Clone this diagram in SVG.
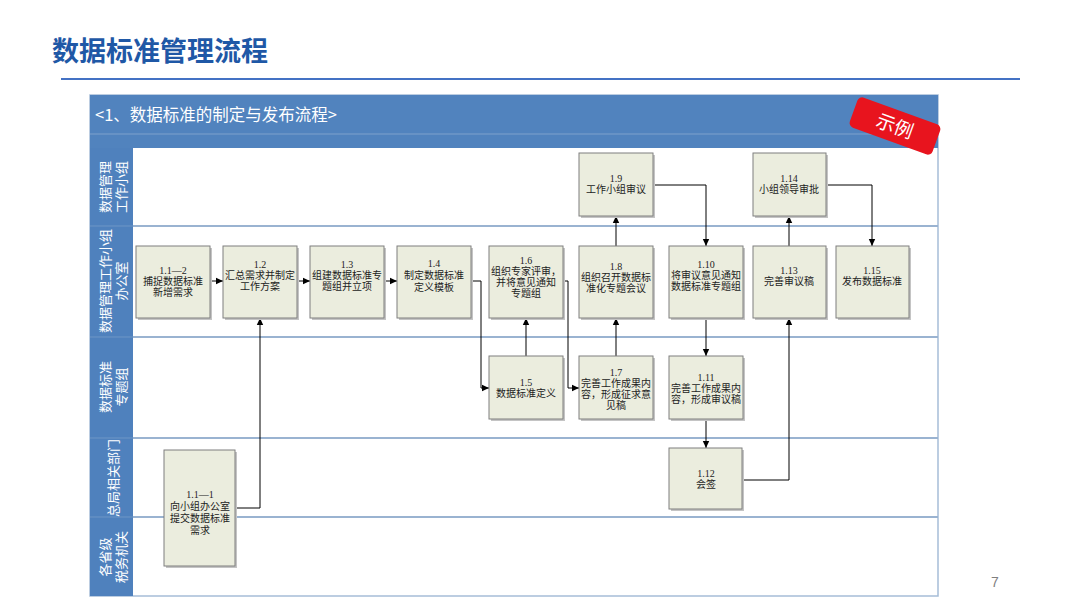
<svg xmlns="http://www.w3.org/2000/svg" width="1080" height="608" viewBox="0 0 1080 608">
<defs>
<marker id="arr" markerWidth="8" markerHeight="8" refX="7" refY="4" orient="auto" markerUnits="userSpaceOnUse">
<path d="M0,0.8 L7,4 L0,7.2 Z" fill="#000"/>
</marker>
<style>
.title{font-family:"Noto Sans CJK SC","Noto Sans",sans-serif;font-weight:700;font-size:27px;fill:#1F58A6}
.hdr{font-family:"Noto Sans CJK SC","Noto Sans",sans-serif;font-size:16.5px;fill:#fff}
.lane{font-family:"Noto Sans CJK SC","Noto Sans",sans-serif;font-size:13px;fill:#fff;text-anchor:middle;dominant-baseline:central}
.box{fill:#EBEDDE;stroke:#7F7F7F;stroke-width:1}
.shd{fill:#C4C4C4}
.t{font-family:"Liberation Serif","Noto Sans CJK SC",serif;font-size:10px;fill:#222;text-anchor:middle}
.con{fill:none;stroke:#000;stroke-width:1;marker-end:url(#arr)}
.sep{stroke:#9AB3D1;stroke-width:2}
.lsep{stroke:#6E96C6;stroke-width:1}
</style>
</defs>
<rect width="1080" height="608" fill="#fff"/>
<text class="title" x="52" y="61">数据标准管理流程</text>
<line x1="61" y1="79" x2="1020" y2="79" stroke="#4472C4" stroke-width="2"/>

<g id="frame">
<rect x="90" y="95" width="848" height="501" fill="#fff" stroke="#A6BDD7" stroke-width="1.5"/>
<rect x="90" y="95" width="848" height="53" fill="#5183BE"/>
<line x1="90" y1="134" x2="938" y2="134" stroke="#7FA1CC" stroke-width="1"/>
<rect x="90" y="148" width="43" height="448" fill="#4F81BD"/>
<text class="hdr" x="95" y="121">&lt;1、数据标准的制定与发布流程&gt;</text>
<line class="sep" x1="133" y1="226" x2="938" y2="226"/>
<line class="sep" x1="133" y1="337" x2="938" y2="337"/>
<line class="sep" x1="133" y1="438" x2="938" y2="438"/>
<line class="sep" x1="133" y1="517" x2="938" y2="517"/>
<line class="lsep" x1="90" y1="226" x2="133" y2="226"/>
<line class="lsep" x1="90" y1="337" x2="133" y2="337"/>
<line class="lsep" x1="90" y1="438" x2="133" y2="438"/>
<line class="lsep" x1="90" y1="517" x2="133" y2="517"/>
</g>

<g id="lane1"><text class="lane" transform="translate(104,187) rotate(-90)">数据管理</text><text class="lane" transform="translate(120,187) rotate(-90)">工作小组</text></g>
<g id="lane2"><text class="lane" transform="translate(104,281) rotate(-90)">数据管理工作小组</text><text class="lane" transform="translate(120,281) rotate(-90)">办公室</text></g>
<g id="lane3"><text class="lane" transform="translate(104,387) rotate(-90)">数据标准</text><text class="lane" transform="translate(120,387) rotate(-90)">专题组</text></g>
<g id="lane4"><text class="lane" transform="translate(112,478) rotate(-90)">总局相关部门</text></g>
<g id="lane5"><text class="lane" transform="translate(104,557) rotate(-90)">各省级</text><text class="lane" transform="translate(120,557) rotate(-90)">税务机关</text></g>

<g id="stamp" transform="translate(895,126) rotate(20)">
<rect x="-44" y="-16" width="88" height="32" rx="5" fill="#E8141E"/>
<text x="0" y="7" text-anchor="middle" font-family="Noto Sans CJK SC,sans-serif" font-size="19" fill="#fff">示例</text>
</g>

<g id="connectors">
<path class="con" d="M210,281 H223"/>
<path class="con" d="M297,281 H310"/>
<path class="con" d="M384,281 H397"/>
<path class="con" d="M471,281 H481 V388 H489"/>
<path class="con" d="M526,356 V318"/>
<path class="con" d="M563,281 H568 V388 H579"/>
<path class="con" d="M616,356 V318"/>
<path class="con" d="M616,246 V216"/>
<path class="con" d="M653,185 H706 V246"/>
<path class="con" d="M706,318 V356"/>
<path class="con" d="M706,419 V448"/>
<path class="con" d="M742,480 H789 V318"/>
<path class="con" d="M789,246 V216"/>
<path class="con" d="M826,185 H872 V246"/>
<path class="con" d="M235,508 H260 V318"/>
</g>

<g id="n1_1_2"><rect class="shd" x="138" y="248" width="74" height="72"/><rect class="box" x="136" y="246" width="74" height="72"/>
<text class="t" x="173" y="274">1.1—2</text><text class="t" x="173" y="285">捕捉数据标准</text><text class="t" x="173" y="296">新增需求</text></g>
<g id="n1_2"><rect class="shd" x="225" y="248" width="74" height="72"/><rect class="box" x="223" y="246" width="74" height="72"/>
<text class="t" x="260" y="268">1.2</text><text class="t" x="260" y="279">汇总需求并制定</text><text class="t" x="260" y="290">工作方案</text></g>
<g id="n1_3"><rect class="shd" x="312" y="248" width="74" height="72"/><rect class="box" x="310" y="246" width="74" height="72"/>
<text class="t" x="347" y="268">1.3</text><text class="t" x="347" y="279">组建数据标准专</text><text class="t" x="347" y="290">题组并立项</text></g>
<g id="n1_4"><rect class="shd" x="399" y="248" width="74" height="72"/><rect class="box" x="397" y="246" width="74" height="72"/>
<text class="t" x="434" y="267">1.4</text><text class="t" x="434" y="279" font-size="11">制定数据标准</text><text class="t" x="434" y="291" font-size="11">定义模板</text></g>
<g id="n1_6"><rect class="shd" x="491" y="248" width="74" height="72"/><rect class="box" x="489" y="246" width="74" height="72"/>
<text class="t" x="526" y="264">1.6</text><text class="t" x="526" y="275">组织专家评审，</text><text class="t" x="526" y="286">并将意见通知</text><text class="t" x="526" y="297">专题组</text></g>
<g id="n1_8"><rect class="shd" x="581" y="248" width="74" height="72"/><rect class="box" x="579" y="246" width="74" height="72"/>
<text class="t" x="616" y="270">1.8</text><text class="t" x="616" y="281">组织召开数据标</text><text class="t" x="616" y="292">准化专题会议</text></g>
<g id="n1_10"><rect class="shd" x="671" y="248" width="74" height="72"/><rect class="box" x="669" y="246" width="74" height="72"/>
<text class="t" x="706" y="268">1.10</text><text class="t" x="706" y="279">将审议意见通知</text><text class="t" x="706" y="290">数据标准专题组</text></g>
<g id="n1_13"><rect class="shd" x="755" y="248" width="73" height="72"/><rect class="box" x="753" y="246" width="73" height="72"/>
<text class="t" x="789" y="274">1.13</text><text class="t" x="789" y="285">完善审议稿</text></g>
<g id="n1_15"><rect class="shd" x="838" y="248" width="73" height="72"/><rect class="box" x="836" y="246" width="73" height="72"/>
<text class="t" x="872" y="274">1.15</text><text class="t" x="872" y="285">发布数据标准</text></g>
<g id="n1_9"><rect class="shd" x="581" y="155" width="74" height="63"/><rect class="box" x="579" y="153" width="74" height="63"/>
<text class="t" x="616" y="182">1.9</text><text class="t" x="616" y="193">工作小组审议</text></g>
<g id="n1_14"><rect class="shd" x="755" y="155" width="73" height="63"/><rect class="box" x="753" y="153" width="73" height="63"/>
<text class="t" x="789" y="182">1.14</text><text class="t" x="789" y="193">小组领导审批</text></g>
<g id="n1_5"><rect class="shd" x="491" y="358" width="74" height="63"/><rect class="box" x="489" y="356" width="74" height="63"/>
<text class="t" x="526" y="386">1.5</text><text class="t" x="526" y="397">数据标准定义</text></g>
<g id="n1_7"><rect class="shd" x="581" y="358" width="74" height="63"/><rect class="box" x="579" y="356" width="74" height="63"/>
<text class="t" x="616" y="376">1.7</text><text class="t" x="616" y="387">完善工作成果内</text><text class="t" x="616" y="398">容，形成征求意</text><text class="t" x="616" y="409">见稿</text></g>
<g id="n1_11"><rect class="shd" x="671" y="358" width="74" height="63"/><rect class="box" x="669" y="356" width="74" height="63"/>
<text class="t" x="706" y="381">1.11</text><text class="t" x="706" y="392">完善工作成果内</text><text class="t" x="706" y="403">容，形成审议稿</text></g>
<g id="n1_12"><rect class="shd" x="671" y="450" width="73" height="61"/><rect class="box" x="669" y="448" width="73" height="61"/>
<text class="t" x="706" y="477">1.12</text><text class="t" x="706" y="488">会签</text></g>
<g id="n1_1_1"><rect class="shd" x="166" y="452" width="71" height="116"/><rect class="box" x="164" y="450" width="71" height="116"/>
<text class="t" x="200" y="498">1.1—1</text><text class="t" x="200" y="510">向小组办公室</text><text class="t" x="200" y="522">提交数据标准</text><text class="t" x="200" y="534">需求</text></g>

<text x="995" y="587" text-anchor="middle" font-family="Liberation Sans,sans-serif" font-size="14" fill="#7F7F7F">7</text>
</svg>
